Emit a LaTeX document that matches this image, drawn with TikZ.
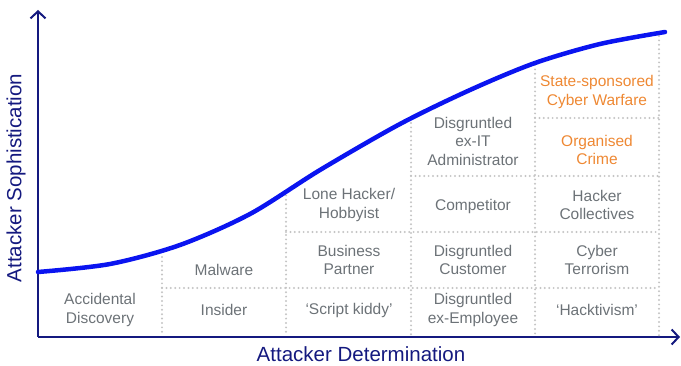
\documentclass[tikz,border=0pt]{standalone}
\usepackage{fontspec}
\setmainfont{Liberation Sans}
\usetikzlibrary{arrows.meta}
\definecolor{navy}{HTML}{14197F}
\definecolor{curveblue}{HTML}{0A14F0}
\definecolor{cellgray}{HTML}{6C7277}
\definecolor{accent}{HTML}{EE8833}
\definecolor{gridgray}{HTML}{C4C4C4}
\begin{document}
\begin{tikzpicture}[x=1pt,y=-1pt,
  axis/.style={navy, line width=2pt},
  tipstyle/.style={-{Straight Barb[length=7pt,width=15pt]}},
  gridline/.style={gridgray, line width=2.2pt, line cap=round, dash pattern=on 0pt off 4.4pt},
  cell/.style={text=cellgray, font=\fontsize{15.5}{18.5}\selectfont, align=center, inner sep=0pt},
  hot/.style={cell, text=accent},
  axlabel/.style={text=navy, font=\fontsize{20.5}{24}\selectfont, inner sep=0pt},
  trend/.style={curveblue, line width=4.5pt, line cap=round}]
  \useasboundingbox (0,0) rectangle (681,366);

  % axes
  \coordinate (O) at (38,337);
  \coordinate (Ytop) at (38,10);
  \coordinate (Xend) at (680,337);
  \draw[axis, tipstyle] (O) -- (Ytop);
  \draw[axis, tipstyle] (O) -- (Xend);
  \node[axlabel] (xlab) at (361,354) {Attacker Determination};
  \node[axlabel, rotate=90] (ylab) at (16,178) {Attacker Sophistication};

  % dotted cell grid
  \foreach \x/\ytop in {162/257, 286/191, 411/123, 535/65, 659/36}
    \draw[gridline] (\x,\ytop) -- (\x,336);
  \foreach \y/\xl in {288/162, 232/286, 176/411, 118/535}
    \draw[gridline] (\xl,\y) -- (659,\y);

  % trend curve
  \draw[trend] plot[smooth] coordinates {(38,272) (110,264) (180,245) (250,214) (320,170) (400,124) (470,90) (535,63) (600,44) (665,32)};

  % column 1
  \node[cell] (c11) at (100,310) {Accidental\\Discovery};
  % column 2
  \node[cell] (c21) at (224,310) {Insider};
  \node[cell] (c22) at (224,270) {Malware};
  % column 3
  \node[cell] (c31) at (349,310) {`Script kiddy'};
  \node[cell] (c32) at (349,260) {Business\\Partner};
  \node[cell] (c33) at (349,205) {Lone Hacker/\\Hobbyist};
  % column 4
  \node[cell] (c41) at (473,310) {Disgruntled\\ex-Employee};
  \node[cell] (c42) at (473,260) {Disgruntled\\Customer};
  \node[cell] (c43) at (473,206) {Competitor};
  \node[cell] (c44) at (473,141) {Disgruntled\\ex-IT\\Administrator};
  % column 5
  \node[cell] (c51) at (597,310) {`Hacktivism'};
  \node[cell] (c52) at (597,260) {Cyber\\Terrorism};
  \node[cell] (c53) at (597,205) {Hacker\\Collectives};
  \node[hot] (c54) at (597,150) {Organised\\Crime};
  \node[hot] (c55) at (597,92) {State-sponsored\\Cyber Warfare};
\end{tikzpicture}
\end{document}
